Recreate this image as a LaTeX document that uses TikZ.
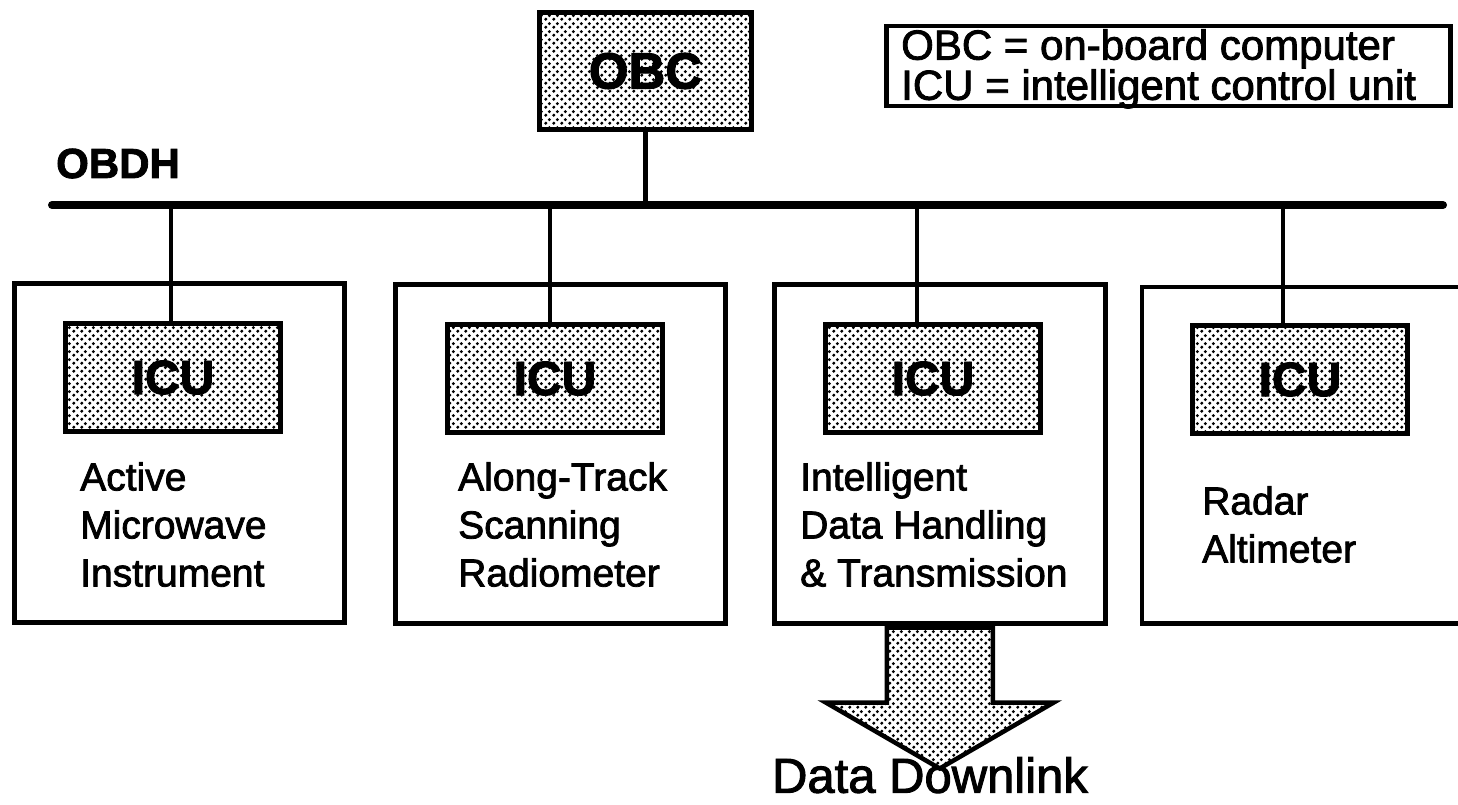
\documentclass[tikz,border=0pt]{standalone}
\usepackage{fontspec}
\setmainfont{Liberation Sans}
\newfontfamily\inkfont{Liberation Sans}[FakeBold=2]
\usetikzlibrary{patterns.meta,calc}

% halftone dot screen used for the shaded units
\pgfdeclarepattern{
  name=halftone,
  type=uncolored,
  bottom left={\pgfpoint{0pt}{0pt}},
  top right={\pgfpoint{8pt}{8pt}},
  tile size={\pgfpoint{8pt}{8pt}},
  code={
    \pgfpathcircle{\pgfpoint{2pt}{2pt}}{1.9pt}
    \pgfpathcircle{\pgfpoint{6pt}{6pt}}{1.9pt}
    \pgfusepath{fill}
  }
}

\begin{document}
\begin{tikzpicture}[x=1pt,y=-1pt,
  shade/.style={pattern=halftone, pattern color=black},
  frame/.style={draw, line width=4.5pt, minimum width=330pt, minimum height=339pt,
                anchor=north west, inner sep=0pt},
  icu/.style={draw, line width=5pt, shade, minimum width=215pt, minimum height=108pt,
              anchor=north west, inner sep=0pt,
              font=\fontsize{48}{48}\selectfont\inkfont\bfseries},
  desc/.style={anchor=north west, align=left, inner sep=0pt,
               font=\fontsize{39}{48}\selectfont\inkfont},
  link/.style={line width=4.5pt},
]
\useasboundingbox (0,0) rectangle (1458,805);

% on-board computer
\node[draw, line width=5pt, shade, minimum width=212pt, minimum height=117pt,
      anchor=north west, inner sep=0pt,
      font=\fontsize{51}{51}\selectfont\inkfont\bfseries]
  (obc) at (537,10) {OBC};

% legend
\node[draw, line width=4.5pt, minimum width=564pt, minimum height=80pt,
      anchor=north west, inner sep=0pt] (legend) at (884,24) {};
\node[anchor=north west, inner sep=0pt, align=left,
      font=\fontsize{42}{34}\selectfont\inkfont]
  (legendtext) at (901,29) {OBC = on-board computer\\ICU = intelligent control unit};

% data bus
\coordinate (busL) at (52,205);
\coordinate (busR) at (1443,205);
\draw[line width=8pt, line cap=round] (busL) -- (busR);
\node[anchor=base west, inner sep=0pt, font=\fontsize{42}{42}\selectfont\inkfont\bfseries]
  (obdh) at (56,178) {OBDH};
\draw[line width=5pt] (obc.south) -- (obc.south |- busL);

% instrument frames
\node[frame] (box1) at (12,281) {};
\node[frame] (box2) at (393,282) {};
\node[frame, minimum width=331pt] (box3) at (772,282) {};
\node[minimum width=330pt, minimum height=336pt, anchor=north west, inner sep=0pt]
  (box4) at (1142,287) {};
\draw[line width=4.5pt] (box4.north east) -- (box4.north west)
  -- (box4.south west) -- (box4.south east);

% downlink arrow out of the data handling unit
\draw[line width=4.5pt, shade, line join=miter]
  ($(box3.south)+(-53,2)$) -- ($(box3.south)+(-53,77)$)
  -- ($(box3.south)+(-114,77)$) -- ($(box3.south)+(0,143)$)
  -- ($(box3.south)+(114,77)$) -- ($(box3.south)+(53,77)$)
  -- ($(box3.south)+(53,2)$) -- cycle;
\node[anchor=north, inner sep=0pt, font=\fontsize{49}{49}\selectfont\inkfont]
  (downlink) at (930,757) {Data Downlink};

% control units
\node[icu] (icu1) at (63,321) {ICU};
\node[icu] (icu2) at (445,322) {ICU};
\node[icu] (icu3) at (823,322) {ICU};
\node[icu] (icu4) at (1190,323) {ICU};

% bus taps
\coordinate (tap1) at (171,205);
\coordinate (tap2) at (550,205);
\coordinate (tap3) at (917,205);
\coordinate (tap4) at (1283,205);
\draw[link] (tap1) -- (tap1 |- icu1.north);
\draw[link] (tap2) -- (tap2 |- icu2.north);
\draw[link] (tap3) -- (tap3 |- icu3.north);
\draw[link] (tap4) -- (tap4 |- icu4.north);

% instrument names
\node[desc] (t1) at (80,462) {Active\\Microwave\\Instrument};
\node[desc] (t2) at (458,462) {Along-Track\\Scanning\\Radiometer};
\node[desc] (t3) at (800,462) {Intelligent\\Data Handling\\\& Transmission};
\node[desc] (t4) at (1202,486) {Radar\\Altimeter};
\end{tikzpicture}
\end{document}
